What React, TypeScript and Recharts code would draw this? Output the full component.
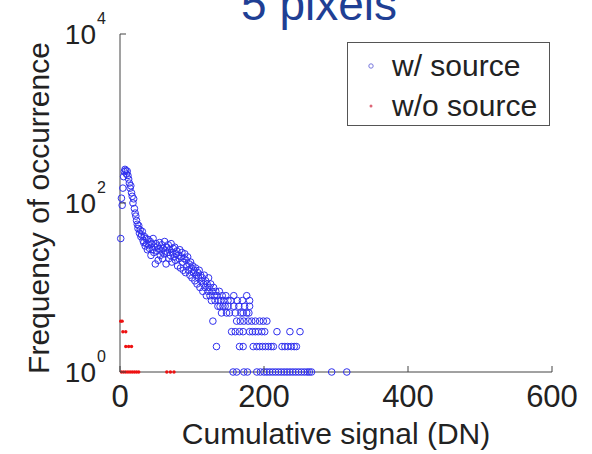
import React from 'react';
import { ScatterChart, Scatter, XAxis, YAxis, Legend } from 'recharts';

const titleText = '5 pixels';
const xLabel = 'Cumulative signal (DN)';
const yLabel = 'Frequency of occurrence';
const seriesNames = ['w/ source', 'w/o source'];
const xTicks = [0, 200, 400, 600];
const yTicks = [1, 100, 10000];

// w/ source: main body [DN, frequency]
const wSourceMain: [number, number][] = [
  [1, 38], [2, 114], [3, 94], [4, 150], [5, 205], [6, 235], [7, 250], [8, 242], [9, 220], [10, 238],
  [11, 212], [12, 192], [13, 172], [14, 150], [15, 160], [16, 132], [17, 120], [18, 100], [19, 112], [20, 86],
  [21, 76], [22, 70], [23, 62], [24, 56], [25, 50], [26, 54], [27, 44], [28, 48], [29, 40], [30, 42],
  [31, 46], [32, 36], [33, 34], [34, 40], [35, 31], [36, 38], [37, 33], [38, 28], [39, 37], [40, 32],
  [41, 29], [42, 35], [43, 24], [44, 33], [45, 28], [46, 38], [47, 26], [48, 30], [49, 19], [50, 33],
  [51, 27], [52, 31], [53, 21], [54, 29], [55, 34], [56, 24], [57, 27], [58, 32], [59, 22], [60, 29],
  [61, 25], [62, 35], [63, 27], [64, 19], [65, 30], [66, 26], [67, 32], [68, 22], [69, 28], [70, 24],
  [71, 33], [72, 20], [73, 26], [74, 29], [75, 23], [76, 30], [77, 21], [78, 25], [79, 27], [80, 18],
  [81, 24], [82, 22], [83, 28], [84, 17], [85, 23], [86, 26], [87, 20], [88, 16], [89, 22], [90, 25],
  [91, 15], [92, 21], [93, 18], [94, 23], [95, 16], [96, 19], [97, 14], [98, 20], [99, 17], [100, 13],
  [101, 18], [102, 15], [103, 16], [104, 12], [105, 17], [106, 14], [107, 11], [108, 15], [109, 13], [110, 16],
  [111, 10], [112, 14], [113, 12], [114, 13], [115, 9], [116, 11], [117, 14], [118, 10], [119, 12], [120, 8],
  [121, 11], [122, 9], [123, 13], [124, 10], [125, 8], [126, 11], [127, 7], [128, 9], [130, 10], [131, 8],
  [132, 7], [133, 9], [135, 8], [136, 6], [137, 7], [138, 9], [139, 6], [140, 7], [142, 8], [144, 7],
  [146, 6], [147, 8], [150, 7], [154, 7], [158, 8], [163, 7], [170, 7], [176, 8], [180, 7],
];

// w/ source: low-count tail [DN, frequency]
const wSourceTail: [number, number][] = [
  [143, 6], [150, 6], [158, 6], [165, 6], [173, 6], [180, 6],
  [141, 5], [148, 5], [152, 5], [160, 5], [168, 5], [171, 5], [176, 5], [179, 5],
  [129, 4], [162, 4], [167, 4], [172, 4], [178, 4], [183, 4], [188, 4], [194, 4], [199, 4], [204, 4],
  [155, 3], [160, 3], [166, 3], [171, 3], [180, 3], [184, 3], [188, 3], [192, 3], [197, 3], [201, 3],
  [218, 3], [236, 3], [250, 3],
  [134, 2], [166, 2], [171, 2], [185, 2], [190, 2], [194, 2], [198, 2], [202, 2], [206, 2], [210, 2],
  [213, 2], [225, 2], [229, 2], [233, 2], [238, 2], [242, 2], [245, 2],
  [157, 1], [162, 1], [172, 1], [177, 1], [190, 1], [195, 1], [200, 1], [204, 1], [208, 1], [212, 1],
  [216, 1], [220, 1], [224, 1], [228, 1], [232, 1], [236, 1], [240, 1], [244, 1], [248, 1], [252, 1],
  [256, 1], [260, 1], [263, 1], [266, 1], [294, 1], [315, 1],
];

// w/o source [DN, frequency]
const woSource: [number, number][] = [
  [2, 1], [5, 1], [8, 1], [11, 1], [14, 1], [17, 1], [20, 1], [23, 1], [26, 1], [65, 1], [70, 1], [75, 1],
  [8, 2], [12, 2], [16, 2], [4, 3], [8, 3], [1, 4], [3, 4],
];

const toPts = (arr: [number, number][]) => arr.map(([x, y]) => ({ x, y }));
const wData = toPts([...wSourceMain, ...wSourceTail]);
const woData = toPts(woSource);

const FONT = '"Liberation Sans", Arial, Helvetica, sans-serif';
const AXIS = '#444';
const BLUE = '#3030ee';
const RED = '#ee1111';

const BlueCircle = (p: any) => (
  <circle cx={p.cx} cy={p.cy} r={3.3} fill="none" stroke={BLUE} strokeWidth={1} />
);
const RedDot = (p: any) => <circle cx={p.cx} cy={p.cy} r={1.7} fill={RED} />;

const BottomTick = (p: any) => (
  <g>
    <line x1={p.x} y1={p.y} x2={p.x} y2={p.y - 6} stroke={AXIS} />
    <text x={p.x} y={p.y + 35} textAnchor="middle" fontSize={31} fill="#222" fontFamily={FONT}>
      {p.payload.value}
    </text>
  </g>
);
const TopTick = (p: any) => <line x1={p.x} y1={p.y} x2={p.x} y2={p.y + 6} stroke={AXIS} />;
const LeftTick = (p: any) => {
  const e = Math.round(Math.log10(p.payload.value));
  return (
    <g>
      <line x1={p.x} y1={p.y} x2={p.x + 6} y2={p.y} stroke={AXIS} />
      <text x={p.x - 24} y={p.y + 10} textAnchor="end" fontSize={28} fill="#222" fontFamily={FONT}>10</text>
      <text x={p.x - 23} y={p.y - 10} textAnchor="start" fontSize={16} fill="#222" fontFamily={FONT}>{e}</text>
    </g>
  );
};
const RightTick = (p: any) => <line x1={p.x} y1={p.y} x2={p.x - 6} y2={p.y} stroke={AXIS} />;

const LegendBox = () => (
  <div
    style={{
      width: 203,
      height: 84,
      boxSizing: 'border-box',
      border: '1px solid #555',
      background: '#fff',
      fontFamily: FONT,
      fontSize: 30,
      color: '#222',
      position: 'relative',
    }}
  >
    {seriesNames.map((n, i) => (
      <div key={n} style={{ position: 'absolute', left: 0, top: i === 0 ? 6 : 46, height: 34, width: '100%' }}>
        <svg width={20} height={34} style={{ position: 'absolute', left: 13, top: 0 }}>
          {i === 0 ? (
            <circle cx={10} cy={17} r={2.2} fill="none" stroke="#7777dd" strokeWidth={1} />
          ) : (
            <circle cx={10} cy={17} r={1.5} fill="#dd6677" />
          )}
        </svg>
        <span style={{ position: 'absolute', left: 44, top: 0, lineHeight: '34px', whiteSpace: 'nowrap' }}>{n}</span>
      </div>
    ))}
  </div>
);

export default function App() {
  return (
    <div style={{ position: 'absolute', left: 0, top: 0, width: 592, height: 454, background: '#fff', overflow: 'hidden' }}>
      <div
        style={{
          position: 'absolute',
          left: 0,
          width: 638,
          top: -19,
          textAlign: 'center',
          fontFamily: FONT,
          fontSize: 46,
          lineHeight: '46px',
          color: '#1f3f94',
        }}
      >
        {titleText}
      </div>
      <ScatterChart width={592} height={454} margin={{ top: 34, right: 40, left: 0, bottom: 0 }}>
        <XAxis
          xAxisId="b"
          dataKey="x"
          type="number"
          domain={[0, 600]}
          ticks={xTicks}
          height={82}
          tickSize={0}
          tickMargin={0}
          tickLine={false}
          axisLine={{ stroke: AXIS }}
          tick={<BottomTick />}
          label={{
            content: (lp: any) => {
              const vb = lp.viewBox;
              return (
                <text x={vb.x + vb.width / 2} y={vb.y + 72} textAnchor="middle" fontSize={30} fill="#222" fontFamily={FONT}>
                  {xLabel}
                </text>
              );
            },
          }}
        />
        <XAxis
          xAxisId="t"
          orientation="top"
          type="number"
          domain={[0, 600]}
          ticks={xTicks}
          height={0}
          tickSize={0}
          tickMargin={0}
          tickLine={false}
          axisLine={{ stroke: AXIS }}
          tick={<TopTick />}
        />
        <YAxis
          yAxisId="l"
          dataKey="y"
          type="number"
          scale="log"
          domain={[1, 10000]}
          ticks={yTicks}
          width={120}
          tickSize={0}
          tickMargin={0}
          tickLine={false}
          axisLine={{ stroke: AXIS }}
          tick={<LeftTick />}
          label={{
            content: (lp: any) => {
              const vb = lp.viewBox;
              const cx = vb.x + 38;
              const cy = vb.y + vb.height / 2 + 5;
              return (
                <text
                  x={cx}
                  y={cy}
                  transform={`rotate(-90 ${cx} ${cy})`}
                  textAnchor="middle"
                  dominantBaseline="central"
                  fontSize={30}
                  fill="#222"
                  fontFamily={FONT}
                >
                  {yLabel}
                </text>
              );
            },
          }}
        />
        <YAxis
          yAxisId="r"
          orientation="right"
          type="number"
          scale="log"
          domain={[1, 10000]}
          ticks={yTicks}
          width={0}
          tickSize={0}
          tickMargin={0}
          tickLine={false}
          axisLine={{ stroke: AXIS }}
          tick={<RightTick />}
        />
        <Legend
          layout="vertical"
          align="center"
          verticalAlign="middle"
          wrapperStyle={{ left: 347, top: 42, width: 203, height: 84 }}
          content={() => <LegendBox />}
        />
        <Scatter
          name={seriesNames[0]}
          data={wData}
          xAxisId="b"
          yAxisId="l"
          shape={<BlueCircle />}
          isAnimationActive={false}
        />
        <Scatter
          name={seriesNames[1]}
          data={woData}
          xAxisId="b"
          yAxisId="l"
          shape={<RedDot />}
          isAnimationActive={false}
        />
      </ScatterChart>
    </div>
  );
}
